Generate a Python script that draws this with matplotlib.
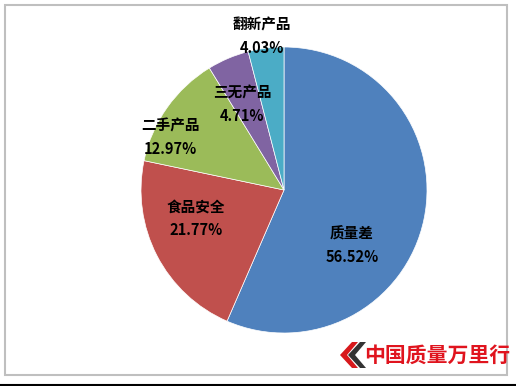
import matplotlib.pyplot as plt
from matplotlib.patches import Rectangle, Polygon

plt.rcParams['font.family'] = ['Noto Sans CJK SC', 'DejaVu Sans']

# données
categories = ['质量差', '食品安全', '二手产品', '三无产品', '翻新产品']
valeurs = [56.52, 21.77, 12.97, 4.71, 4.03]
couleurs = ['#4F81BD', '#C0504D', '#9BBB59', '#8064A2', '#4BACC6']

W, H = 516, 386
fig = plt.figure(figsize=(W / 100, H / 100), dpi=100)
fig.patch.set_facecolor('white')

# cadre gris + ligne noire en bas
fig.add_artist(Rectangle((5 / W, 1 - 375 / H), 502 / W, 370 / H, transform=fig.transFigure,
                         facecolor='none', edgecolor='#BFBFBF', linewidth=1.5, zorder=-1))
fig.add_artist(plt.Line2D([0, 1], [1 - 385 / H, 1 - 385 / H], transform=fig.transFigure,
                          color='black', linewidth=1.5))

# camembert
cx, cy, r = 284, 190, 143
ax = fig.add_axes([(cx - r) / W, 1 - (cy + r) / H, 2 * r / W, 2 * r / H])
wedges, _ = ax.pie(valeurs, colors=couleurs, startangle=90, counterclock=False,
                   wedgeprops=dict(linewidth=0.5, edgecolor='white'))
ax.set_aspect('equal')
ax.set_xlim(-1, 1)
ax.set_ylim(-1, 1)
ax.axis('off')

# étiquettes (position en pixels)
positions = [(352, 245), (196, 218), (170, 137), (242, 104), (262, 36)]
for cat, val, (px, py) in zip(categories, valeurs, positions):
    fig.text(px / W, 1 - py / H, f'{cat}\n{val:.2f}%', ha='center', va='center',
             fontsize=10.5, fontweight='bold', color='black', linespacing=1.55, zorder=5)

# filigrane
fig.add_artist(Polygon([[340 / W, 1 - 355 / H], [352 / W, 1 - 342 / H], [358 / W, 1 - 342 / H],
                        [347 / W, 1 - 355 / H], [358 / W, 1 - 368 / H], [352 / W, 1 - 368 / H]],
                       closed=True, transform=fig.transFigure, facecolor='#D7191C', edgecolor='none'))
fig.add_artist(Polygon([[348 / W, 1 - 355 / H], [360 / W, 1 - 342 / H], [366 / W, 1 - 342 / H],
                        [355 / W, 1 - 355 / H], [366 / W, 1 - 368 / H], [360 / W, 1 - 368 / H]],
                       closed=True, transform=fig.transFigure, facecolor='#333333', edgecolor='none'))
fig.text(437 / W, 1 - 355 / H, '中国质量万里行', ha='center', va='center',
         fontsize=15, fontweight='bold', color='#E0141E')

fig.savefig('out.png', dpi=100)
